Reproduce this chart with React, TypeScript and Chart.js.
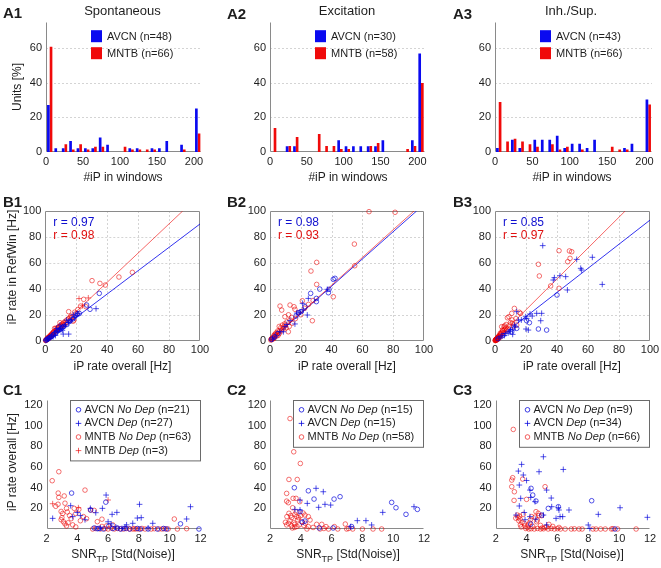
import React, { useEffect, useRef } from 'react';
import { Chart, registerables } from 'chart.js';
Chart.register(...registerables);

const FONT = '"Liberation Sans", Arial, Helvetica, sans-serif';
const BAR_BLUE = '#0a0af0';
const BAR_RED = '#f00a0a';
const PT_BLUE = 'rgba(0,0,220,0.85)';
const PT_RED = 'rgba(235,0,0,0.7)';
const FIT_BLUE = 'rgba(0,0,235,0.8)';
const FIT_RED = 'rgba(240,0,0,0.6)';
const TXT = '#1e1e1e';

// ---------------- DATA ----------------
const BIN_CENTERS = [5, 15, 25, 35, 45, 55, 65, 75, 85, 95, 105, 115, 125, 135, 145, 155, 165, 175, 185, 195, 205];
const A_X_TICKS = [0, 50, 100, 150, 200];
const A_Y_TICKS = [0, 20, 40, 60];
const B_TICKS = [0, 20, 40, 60, 80, 100];
const C_X_TICKS = [2, 4, 6, 8, 10, 12];
const C_Y_TICKS = [20, 40, 60, 80, 100, 120];

const A1_AVCN = [27.1, 2.1, 2.1, 6.3, 2.1, 2.1, 2.1, 8.3, 4.2, 0, 0, 2.1, 2.1, 0, 2.1, 2.1, 6.3, 0, 4.2, 0, 25.0];
const A1_MNTB = [60.6, 0, 4.5, 1.5, 4.5, 1.5, 3.0, 3.0, 0, 0, 3.0, 1.5, 1.5, 1.5, 1.5, 0, 0, 0, 1.5, 0, 10.6];
const A2_AVCN = [0, 0, 3.3, 3.3, 0, 0, 0, 0, 0, 6.7, 3.3, 3.3, 3.3, 3.3, 3.3, 6.7, 0, 0, 0, 6.7, 56.7];
const A2_MNTB = [13.8, 0, 3.4, 8.6, 0, 0, 10.3, 3.4, 3.4, 1.7, 1.7, 0, 0, 3.4, 5.2, 0, 0, 0, 1.7, 3.4, 39.7];
const A3_AVCN = [2.3, 0, 7.0, 2.3, 0, 7.0, 7.0, 7.0, 9.3, 2.3, 4.7, 4.7, 2.3, 7.0, 0, 0, 0, 2.3, 4.7, 0, 30.2];
const A3_MNTB = [28.8, 6.1, 7.6, 6.1, 4.5, 3.0, 0, 4.5, 1.5, 3.0, 0, 1.5, 0, 0, 0, 3.0, 1.5, 1.5, 0, 0, 27.3];

type Pt = [number, number];

const B1_AVCN_NODEP: Pt[] = [[0.5,0.4],[1.2,1.0],[2.0,1.8],[3.0,2.6],[4.0,3.2],[5.0,4.5],[6.2,5.5],[7.0,6.3],[8.0,7.8],[9.0,8.2],[10.0,9.0],[11.0,10.2],[12.0,11.0],[14.0,12.5],[16.0,15.0],[18.0,17.0],[20.7,20.6],[22.0,21.0],[26.7,27.5],[28.9,24.2],[34.9,36.5]];
const B1_AVCN_DEP: Pt[] = [[0.4,0.3],[1.5,1.2],[3.0,2.0],[4.0,3.5],[5.0,3.0],[6.0,6.0],[6.5,4.0],[7.3,9.5],[8.0,7.0],[9.0,8.5],[9.5,12.0],[10.0,9.2],[11.0,8.0],[11.6,5.1],[12.0,11.0],[13.0,12.0],[13.8,15.9],[15.1,5.1],[15.0,14.0],[16.0,15.2],[17.0,16.0],[18.1,20.0],[19.0,18.0],[20.0,19.0],[21.0,21.0],[32.8,24.7],[2.2,1.5]];
const B1_MNTB_NODEP: Pt[] = [[0.2,0.1],[0.3,0.3],[0.5,0.8],[0.8,0.5],[1.0,1.0],[1.2,1.5],[1.5,2.0],[1.8,2.2],[2.0,2.5],[2.0,1.5],[2.5,3.0],[2.8,3.0],[3.0,3.5],[3.0,2.5],[3.2,4.0],[3.5,4.0],[4.0,4.5],[4.2,3.8],[4.0,5.0],[4.5,5.5],[5.0,6.0],[5.0,5.0],[5.2,6.5],[5.5,7.0],[6.0,9.5],[6.2,7.0],[6.7,9.5],[7.0,8.0],[7.2,7.5],[7.5,9.0],[8.0,9.0],[8.0,10.0],[8.5,10.5],[9.0,11.0],[9.5,13.9],[10.0,12.0],[10.0,11.5],[10.5,11.0],[11.0,13.0],[11.5,12.5],[12.0,14.0],[12.0,12.0],[13.0,15.0],[13.5,14.0],[14.0,16.0],[15.0,17.0],[15.1,22.4],[16.0,18.0],[16.5,19.0],[17.0,18.0],[18.0,15.0],[18.5,15.9],[19.0,22.0],[20.0,21.0],[21.0,24.0],[22.8,26.7],[24.8,31.9],[26.3,26.2],[30.2,46.3],[35.3,44.2],[38.8,42.9],[47.6,49.1],[56.3,52.7]];
const B1_MNTB_DEP: Pt[] = [[21.8,32.5],[27.8,33.0],[24.0,27.0]];
const B1_FIT_AVCN: Pt[] = [[0, 0], [100, 90]];
const B1_FIT_MNTB: Pt[] = [[0, 0], [88.8, 100]];

const B2_AVCN_NODEP: Pt[] = [[42.2,48.1],[41.1,47.3],[37.9,37.0],[38.3,39.6],[32.3,39.8],[26.4,36.5],[30.1,30.1],[30.1,32.6],[22.7,26.2],[20.1,22.4],[18.6,21.6],[16.9,19.0],[3.0,3.0],[1.0,1.0],[5.0,5.5]];
const B2_AVCN_DEP: Pt[] = [[37.2,39.6],[24.2,19.8],[21.2,28.8],[24.9,32.6],[16.2,12.9],[8.7,6.9],[21.6,23.7],[17.4,21.3],[13.0,15.5],[9.7,10.8],[6.5,6.9],[3.2,2.8],[1.5,1.2],[19.5,22.0],[11.0,12.5]];
const B2_MNTB_NODEP: Pt[] = [[64.3,99.5],[81.2,99.0],[54.8,74.5],[55.0,57.8],[30.3,60.4],[26.6,53.7],[30.3,43.4],[41.1,33.9],[27.5,15.4],[6.5,26.7],[7.6,23.6],[13.0,27.5],[15.6,26.2],[16.2,24.2],[21.0,30.8],[9.7,18.5],[11.9,6.9],[12.0,20.0],[14.0,18.0],[13.0,16.0],[11.0,14.5],[10.0,12.0],[9.0,10.5],[8.0,12.0],[7.0,10.0],[6.5,8.0],[6.0,11.0],[5.5,6.5],[5.0,7.5],[4.5,5.0],[4.0,6.0],[3.5,4.5],[3.0,3.5],[2.5,4.0],[2.0,2.5],[1.5,2.0],[1.0,1.5],[0.5,0.5],[0.8,1.2],[1.2,0.8],[2.2,1.5],[2.8,2.0],[3.2,5.0],[4.2,3.5],[5.2,4.0],[6.0,5.5],[7.5,7.5],[8.5,9.0],[9.5,13.0],[10.5,10.0],[12.5,11.0],[14.5,13.5],[16.5,17.0],[18.5,21.5],[20.0,20.0],[22.5,25.0],[25.0,28.0],[28.0,31.0]];
const B2_FIT_AVCN: Pt[] = [[0, 0], [95.2, 100]];
const B2_FIT_MNTB: Pt[] = [[0, 0], [93.5, 100]];

const B3_AVCN_NODEP: Pt[] = [[40.0,35.2],[28.0,9.0],[33.3,8.2],[22.2,13.9],[20.4,15.4],[14.0,9.5],[10.8,6.9],[5.0,4.0],[2.0,1.5]];
const B3_AVCN_DEP: Pt[] = [[30.8,73.3],[69.2,43.4],[62.8,64.3],[52.7,62.7],[55.3,55.8],[55.9,54.5],[41.9,50.1],[45.6,49.4],[38.3,48.6],[37.6,46.8],[46.7,39.1],[30.1,21.1],[26.9,21.1],[29.5,15.4],[22.6,20.6],[19.8,18.5],[20.4,17.2],[20.0,9.0],[21.5,8.2],[15.1,15.9],[14.0,22.4],[11.4,8.2],[11.4,4.9],[9.5,7.0],[8.5,6.0],[7.0,5.5],[4.5,3.5],[2.5,2.0],[12.5,12.0],[17.0,16.0],[24.0,19.0],[13.0,10.5],[6.0,4.0],[10.0,8.5]];
const B3_MNTB_NODEP: Pt[] = [[41.3,69.4],[48.0,69.2],[49.5,68.6],[48.4,63.5],[46.9,60.9],[28.0,58.9],[28.6,49.9],[35.9,42.2],[41.3,40.4],[12.5,24.9],[15.7,21.9],[10.8,21.1],[9.0,18.5],[8.0,17.7],[13.5,17.0],[11.2,13.4],[14.0,12.1],[4.3,10.8],[5.8,10.8],[8.0,8.7],[3.3,5.5],[2.2,3.0],[1.2,1.5],[0.1,0.1],[0.2,0.3],[0.3,0.2],[0.4,0.6],[0.5,0.4],[0.6,0.9],[0.7,0.5],[0.8,1.0],[0.9,0.7],[1.0,1.3],[1.1,0.9],[1.3,1.8],[1.4,1.2],[1.5,2.2],[1.6,1.6],[1.8,2.5],[2.0,2.0],[2.4,3.5],[2.6,2.8],[2.8,4.0],[3.0,3.2],[3.5,4.5],[3.8,6.0],[4.0,5.0],[4.5,6.5],[5.0,7.5],[5.5,6.0],[6.0,8.5],[6.5,9.0],[7.0,10.0],[7.5,8.0],[9.5,12.0],[10.0,14.0],[11.0,16.0],[12.0,11.0],[7.2,12.5],[6.2,11.5],[16.5,21.0],[2.0,1.2],[1.0,0.5],[0.5,0.9],[3.5,2.8],[4.8,8.2]];
const B3_FIT_AVCN: Pt[] = [[0, 0], [100, 93]];
const B3_FIT_MNTB: Pt[] = [[0, 0], [84, 100]];

const C1_AVCN_NODEP: Pt[] = [[3.63,34.8],[4.87,18.4],[5.85,26.0],[6.05,3.0],[5.1,1.0],[5.4,0.5],[5.7,0.0],[6.3,0.5],[6.8,0.0],[7.4,0.0],[7.9,0.5],[8.6,0.0],[9.2,0.0],[9.6,0.5],[9.8,0.0],[10.7,5.0],[11.9,0.0],[6.6,1.0],[7.1,0.5],[5.3,0.3],[8.1,0.0]];
const C1_AVCN_DEP: Pt[] = [[2.4,10.3],[3.57,22.6],[3.7,12.0],[4.0,16.0],[4.2,13.0],[4.5,9.0],[4.85,20.0],[5.2,15.8],[5.63,20.0],[5.87,32.9],[6.0,7.0],[6.2,5.0],[6.26,14.2],[6.57,16.1],[7.1,2.0],[7.6,5.5],[7.9,10.6],[8.15,11.0],[8.04,23.9],[8.9,5.5],[11.1,9.7],[11.35,21.6],[6.5,2.0],[5.5,1.0],[6.9,0.5],[7.2,4.0],[8.6,1.0]];
const C1_MNTB_NODEP: Pt[] = [[2.37,46.8],[2.8,55.5],[2.76,34.8],[2.8,30.6],[2.6,22.0],[2.75,24.0],[2.95,17.0],[2.95,9.0],[3.0,11.0],[3.1,7.0],[3.2,5.0],[3.3,3.0],[3.05,15.0],[3.35,16.5],[3.5,13.0],[3.6,10.0],[3.9,15.0],[4.5,37.7],[4.1,19.0],[3.8,20.0],[4.85,18.4],[5.3,7.1],[5.9,3.0],[10.3,9.7],[3.2,25.0],[3.4,6.0],[3.7,4.0],[3.9,2.0],[4.2,8.0],[4.4,12.0],[3.15,32.0],[5.6,9.5],[5.1,18.0],[4.6,10.0],[3.3,20.0],[5.0,0.0],[5.2,0.5],[5.5,0.0],[5.8,0.3],[6.0,0.0],[6.2,1.0],[6.4,0.0],[6.6,0.5],[6.8,0.2],[7.0,0.0],[7.2,0.5],[7.4,0.0],[7.6,0.0],[7.7,0.3],[7.8,0.0],[8.0,0.0],[8.2,0.5],[8.4,0.0],[8.8,0.0],[9.0,0.3],[9.3,0.0],[9.5,0.0],[9.7,0.2],[9.9,0.0],[10.5,0.0],[11.1,0.3],[5.6,2.5],[6.3,4.0]];
const C1_MNTB_DEP: Pt[] = [[2.4,24.5],[4.07,20.6],[6.0,28.1]];

const C2_AVCN_NODEP: Pt[] = [[3.58,40.0],[4.49,37.0],[4.86,29.0],[6.16,29.0],[6.55,31.3],[9.9,25.8],[10.18,20.6],[10.83,14.2],[11.57,19.0],[4.27,7.7],[3.95,16.8],[7.3,2.3],[6.1,1.0],[5.2,1.0],[4.1,6.5]];
const C2_AVCN_DEP: Pt[] = [[3.95,28.0],[3.62,19.0],[3.95,18.4],[4.42,24.8],[4.99,39.4],[5.46,36.1],[5.16,21.0],[5.57,23.9],[5.94,23.2],[7.67,8.1],[8.23,8.1],[8.6,3.9],[9.32,16.1],[11.35,21.6],[7.24,2.3]];
const C2_MNTB_NODEP: Pt[] = [[3.3,107.0],[3.54,74.8],[3.97,63.5],[3.23,48.0],[3.77,48.0],[3.08,34.5],[3.5,29.7],[3.69,29.7],[3.08,27.0],[3.19,25.5],[3.93,26.5],[3.47,20.6],[3.23,15.2],[3.62,14.2],[3.4,11.0],[3.73,12.0],[4.27,13.5],[4.49,12.0],[4.6,8.7],[4.06,7.1],[4.49,2.3],[5.03,4.5],[5.36,4.5],[5.64,2.3],[6.18,2.3],[6.89,4.8],[6.98,0.0],[7.37,0.0],[8.69,0.0],[9.25,0.0],[5.8,0.0],[5.25,0.0],[4.4,0.0],[3.2,5.5],[3.08,4.0],[3.4,3.2],[3.6,1.5],[3.8,9.0],[3.9,4.0],[4.0,13.0],[3.3,8.0],[3.55,6.0],[3.7,16.5],[4.15,15.5],[3.85,11.0],[3.1,12.0],[3.45,1.0],[3.75,2.5],[4.2,3.5],[4.8,1.5],[6.4,0.0],[7.1,0.5],[8.0,0.0],[3.0,6.5],[3.35,13.0],[3.6,4.5],[4.3,5.5],[5.5,0.5]];

const C3_AVCN_NODEP: Pt[] = [[4.29,39.4],[4.4,32.9],[4.61,27.1],[5.41,20.0],[6.06,21.6],[8.22,27.4],[4.98,13.5],[4.27,4.8],[9.73,0.0]];
const C3_AVCN_DEP: Pt[] = [[5.09,70.0],[3.68,62.6],[3.47,56.1],[4.81,55.5],[6.38,57.7],[3.79,52.3],[3.53,42.6],[4.22,37.7],[4.27,30.6],[5.3,37.7],[4.55,26.5],[3.62,29.7],[3.53,22.3],[3.32,13.5],[4.22,12.0],[5.63,21.6],[6.06,20.6],[6.1,18.4],[6.75,18.4],[5.09,13.5],[5.91,10.3],[6.17,12.0],[6.34,12.0],[8.0,3.9],[8.65,14.2],[10.06,20.6],[11.83,11.3],[3.9,9.0],[4.6,9.5],[5.3,4.0],[5.6,30.0],[4.0,47.0],[3.85,16.0],[8.1,0.5]];
const C3_MNTB_NODEP: Pt[] = [[3.14,96.5],[3.04,47.4],[3.1,49.7],[3.04,41.0],[3.21,36.1],[3.19,27.7],[3.75,48.4],[4.0,28.7],[5.2,41.0],[3.4,13.5],[3.58,9.7],[3.5,8.0],[3.7,6.5],[3.45,11.0],[3.79,14.2],[4.61,16.8],[4.7,8.7],[4.76,15.2],[4.98,12.9],[4.33,12.0],[4.2,6.0],[3.6,4.0],[3.9,3.0],[4.05,1.5],[4.4,2.5],[4.9,3.5],[5.3,2.0],[5.0,1.0],[3.95,0.5],[4.15,0.0],[4.3,0.3],[4.5,0.0],[4.7,0.5],[4.9,0.0],[5.1,0.2],[5.4,0.0],[5.6,0.5],[5.8,0.0],[6.0,0.3],[6.2,0.0],[6.5,0.0],[6.9,0.0],[7.1,0.2],[7.4,0.0],[7.6,0.0],[8.3,0.0],[8.5,0.0],[8.8,0.0],[9.1,0.0],[9.5,0.0],[9.6,0.3],[9.9,0.0],[11.1,0.0],[3.3,10.5],[3.55,12.5],[4.55,11.5],[4.8,13.0],[5.45,4.5],[5.2,1.5],[4.1,4.0],[3.65,2.0],[3.85,5.5],[4.25,9.0],[4.65,7.0],[5.7,2.5],[6.1,1.5]];

// ---------------- GEOMETRY (plot areas in page px) ----------------
type Geo = { l: number; r: number; t: number; b: number };
const ROW_A = { t: 21.7, b: 152 };
const ROW_B = { t: 211, b: 340.7 };
const ROW_C = { t: 400, b: 529 };
const G_A1: Geo = { l: 46, r: 201.4, ...ROW_A };
const G_A2: Geo = { l: 270, r: 424.7, ...ROW_A };
const G_A3: Geo = { l: 495, r: 652, ...ROW_A };
const G_B1: Geo = { l: 45.3, r: 200, ...ROW_B };
const G_B2: Geo = { l: 270, r: 424, ...ROW_B };
const G_B3: Geo = { l: 495, r: 650, ...ROW_B };
const G_C1: Geo = { l: 46.5, r: 200.5, ...ROW_C };
const G_C2: Geo = { l: 270, r: 424, ...ROW_C };
const G_C3: Geo = { l: 495.7, r: 650, ...ROW_C };

function canvasBox(g: Geo) {
  const cl = Math.max(0, Math.floor(g.l) - 42);
  const ct = Math.floor(g.t) - 14;
  const cr = Math.min(661, Math.ceil(g.r) + 12);
  const cb = Math.ceil(g.b) + 22;
  return { cl, ct, cr, cb };
}

const tickFont = { family: FONT, size: 11 };

function xScale(g: Geo, min: number, max: number, ticks: number[]) {
  const { cb } = canvasBox(g);
  return {
    type: 'linear', min, max, offset: false, bounds: 'data',
    grid: { display: false, drawTicks: false }, border: { display: false },
    ticks: { font: tickFont, color: TXT, padding: 3, maxRotation: 0, autoSkip: false },
    afterBuildTicks: (s: any) => { s.ticks = ticks.map((v) => ({ value: v })); },
    afterFit: (s: any) => { s.height = cb - g.b; s.paddingLeft = 0; s.paddingRight = 0; },
  };
}
function yScale(g: Geo, min: number, max: number, ticks: number[]) {
  const { cl } = canvasBox(g);
  return {
    type: 'linear', min, max, bounds: 'data',
    grid: { display: false, drawTicks: false }, border: { display: false },
    ticks: { font: tickFont, color: TXT, padding: 4, autoSkip: false },
    afterBuildTicks: (s: any) => { s.ticks = ticks.map((v) => ({ value: v })); },
    afterFit: (s: any) => { s.width = g.l - cl; s.paddingTop = 0; s.paddingBottom = 0; },
  };
}

function baseOptions(g: Geo) {
  const { ct, cr } = canvasBox(g);
  return {
    animation: false, responsive: false, devicePixelRatio: 1,
    layout: { padding: { top: g.t - ct, right: cr - g.r, left: 0, bottom: 0 } },
    plugins: { legend: { display: false }, tooltip: { enabled: false }, title: { display: false } },
    events: [],
  };
}

function framePlugin(gridX: number[], gridY: number[], box: boolean) {
  return {
    id: 'frame',
    beforeDatasetsDraw(chart: any) {
      const { ctx, chartArea: a, scales } = chart;
      const x = scales.x, y = scales.y;
      ctx.save();
      ctx.strokeStyle = '#d4d4d4';
      ctx.lineWidth = 1;
      ctx.setLineDash([2, 2]);
      gridX.forEach((v) => {
        const px = Math.round(x.getPixelForValue(v)) + 0.5;
        ctx.beginPath(); ctx.moveTo(px, a.top); ctx.lineTo(px, a.bottom); ctx.stroke();
      });
      gridY.forEach((v) => {
        const py = Math.round(y.getPixelForValue(v)) + 0.5;
        ctx.beginPath(); ctx.moveTo(a.left, py); ctx.lineTo(a.right, py); ctx.stroke();
      });
      ctx.setLineDash([]);
      ctx.strokeStyle = '#8a8a8a';
      const L = Math.round(a.left) + 0.5, R = Math.round(a.right) - 0.5;
      const T = Math.round(a.top) + 0.5, B = Math.round(a.bottom) - 0.5;
      ctx.beginPath();
      ctx.moveTo(L, T); ctx.lineTo(L, B); ctx.lineTo(R, B);
      if (box) { ctx.lineTo(R, T); ctx.lineTo(L, T); }
      ctx.stroke();
      ctx.restore();
    },
  };
}

function barLegendPlugin(items: { label: string; color: string }[]) {
  return {
    id: 'barLegend',
    afterDatasetsDraw(chart: any) {
      const { ctx, chartArea: a } = chart;
      ctx.save();
      items.forEach((it, i) => {
        const y0 = a.top + 8.5 + i * 17;
        ctx.fillStyle = it.color;
        ctx.fillRect(a.left + 45, y0, 11, 12);
        ctx.fillStyle = TXT;
        ctx.font = `11px ${FONT}`;
        ctx.textBaseline = 'middle';
        ctx.fillText(it.label, a.left + 61, y0 + 6.5);
      });
      ctx.restore();
    },
  };
}

function rTextPlugin(items: { label: string; color: string }[], dx: number) {
  return {
    id: 'rText',
    afterDatasetsDraw(chart: any) {
      const { ctx, chartArea: a } = chart;
      ctx.save();
      ctx.font = `12px ${FONT}`;
      ctx.textBaseline = 'middle';
      items.forEach((it, i) => {
        ctx.fillStyle = it.color;
        ctx.fillText(it.label, a.left + dx, a.top + 12 + i * 13);
      });
      ctx.restore();
    },
  };
}

type LegPart = [string, boolean];
function drawMarker(ctx: CanvasRenderingContext2D, style: string, color: string, x: number, y: number) {
  ctx.save();
  ctx.strokeStyle = color;
  ctx.lineWidth = 0.9;
  ctx.beginPath();
  if (style === 'circle') {
    ctx.arc(x, y, 2.3, 0, Math.PI * 2);
  } else {
    ctx.moveTo(x - 2.8, y); ctx.lineTo(x + 2.8, y);
    ctx.moveTo(x, y - 2.8); ctx.lineTo(x, y + 2.8);
  }
  ctx.stroke();
  ctx.restore();
}

function boxLegendPlugin(items: { parts: LegPart[]; color: string; style: string }[]) {
  return {
    id: 'boxLegend',
    afterDatasetsDraw(chart: any) {
      const { ctx, chartArea: a } = chart;
      const w = 131;
      const h = items.length * 13.6 + 6;
      const left = Math.round(a.right - w) + 0.5;
      const top = Math.round(a.top) + 0.5;
      ctx.save();
      ctx.fillStyle = '#ffffff';
      ctx.fillRect(left, top, w, h);
      ctx.strokeStyle = '#6a6a6a';
      ctx.lineWidth = 1;
      ctx.strokeRect(left, top, w - 1, h);
      ctx.textBaseline = 'middle';
      items.forEach((it, i) => {
        const cy = top + 9.3 + i * 13.6;
        drawMarker(ctx, it.style, it.color, left + 8, cy);
        let x = left + 14;
        ctx.fillStyle = TXT;
        it.parts.forEach(([s, ital]) => {
          ctx.font = `${ital ? 'italic ' : ''}11px ${FONT}`;
          ctx.fillText(s, x, cy);
          x += ctx.measureText(s).width;
        });
      });
      ctx.restore();
    },
  };
}

function pts(p: Pt[]) { return p.map(([x, y]) => ({ x, y })); }

function scatterDs(p: Pt[], color: string, style: string) {
  return {
    data: pts(p), showLine: false, clip: false,
    pointStyle: style === 'circle' ? 'circle' : 'cross',
    pointRadius: style === 'circle' ? 2.3 : 2.9,
    pointBorderColor: color, pointBackgroundColor: 'rgba(0,0,0,0)',
    pointBorderWidth: 0.8, borderColor: color, backgroundColor: 'rgba(0,0,0,0)',
  };
}
function fitDs(p: Pt[], color: string) {
  return {
    data: pts(p), showLine: true, pointRadius: 0, borderColor: color, borderWidth: 1,
    fill: false, tension: 0,
  };
}

function histConfig(g: Geo, avcn: number[], mntb: number[], labA: string, labM: string) {
  return {
    type: 'bar',
    data: {
      datasets: [
        { data: BIN_CENTERS.map((x, i) => ({ x, y: avcn[i] })), backgroundColor: BAR_BLUE, categoryPercentage: 0.72, barPercentage: 1, borderWidth: 0 },
        { data: BIN_CENTERS.map((x, i) => ({ x, y: mntb[i] })), backgroundColor: BAR_RED, categoryPercentage: 0.72, barPercentage: 1, borderWidth: 0 },
      ],
    },
    options: {
      ...baseOptions(g),
      scales: { x: xScale(g, 0, 210, A_X_TICKS), y: yScale(g, 0, 75, A_Y_TICKS) },
    },
    plugins: [
      framePlugin([], [20, 40, 60], false),
      barLegendPlugin([{ label: labA, color: BAR_BLUE }, { label: labM, color: BAR_RED }]),
    ],
  };
}

function bConfig(g: Geo, sets: any[], fits: any[], r: { label: string; color: string }[]) {
  return {
    type: 'scatter',
    data: { datasets: [...sets, ...fits] },
    options: {
      ...baseOptions(g),
      scales: { x: xScale(g, 0, 100, B_TICKS), y: yScale(g, 0, 100, B_TICKS) },
    },
    plugins: [framePlugin([20, 40, 60, 80], [20, 40, 60, 80], true), rTextPlugin(r, 8)],
  };
}

function cConfig(g: Geo, sets: any[], legend: { parts: LegPart[]; color: string; style: string }[]) {
  return {
    type: 'scatter',
    data: { datasets: sets },
    options: {
      ...baseOptions(g),
      scales: { x: xScale(g, 2, 12, C_X_TICKS), y: yScale(g, 0, 125, C_Y_TICKS) },
    },
    plugins: [framePlugin([], [], false), boxLegendPlugin(legend)],
  };
}

const PANELS: { g: Geo; make: () => any }[] = [
  { g: G_A1, make: () => histConfig(G_A1, A1_AVCN, A1_MNTB, 'AVCN (n=48)', 'MNTB (n=66)') },
  { g: G_A2, make: () => histConfig(G_A2, A2_AVCN, A2_MNTB, 'AVCN (n=30)', 'MNTB (n=58)') },
  { g: G_A3, make: () => histConfig(G_A3, A3_AVCN, A3_MNTB, 'AVCN (n=43)', 'MNTB (n=66)') },
  {
    g: G_B1, make: () => bConfig(G_B1, [
      scatterDs(B1_AVCN_NODEP, PT_BLUE, 'circle'), scatterDs(B1_AVCN_DEP, PT_BLUE, 'cross'),
      scatterDs(B1_MNTB_NODEP, PT_RED, 'circle'), scatterDs(B1_MNTB_DEP, PT_RED, 'cross'),
    ], [fitDs(B1_FIT_AVCN, FIT_BLUE), fitDs(B1_FIT_MNTB, FIT_RED)],
      [{ label: 'r = 0.97', color: '#1010d0' }, { label: 'r = 0.98', color: '#e01010' }]),
  },
  {
    g: G_B2, make: () => bConfig(G_B2, [
      scatterDs(B2_AVCN_NODEP, PT_BLUE, 'circle'), scatterDs(B2_AVCN_DEP, PT_BLUE, 'cross'),
      scatterDs(B2_MNTB_NODEP, PT_RED, 'circle'),
    ], [fitDs(B2_FIT_MNTB, FIT_RED), fitDs(B2_FIT_AVCN, FIT_BLUE)],
      [{ label: 'r = 0.98', color: '#1010d0' }, { label: 'r = 0.93', color: '#e01010' }]),
  },
  {
    g: G_B3, make: () => bConfig(G_B3, [
      scatterDs(B3_AVCN_NODEP, PT_BLUE, 'circle'), scatterDs(B3_AVCN_DEP, PT_BLUE, 'cross'),
      scatterDs(B3_MNTB_NODEP, PT_RED, 'circle'),
    ], [fitDs(B3_FIT_AVCN, FIT_BLUE), fitDs(B3_FIT_MNTB, FIT_RED)],
      [{ label: 'r = 0.85', color: '#1010d0' }, { label: 'r = 0.97', color: '#e01010' }]),
  },
  {
    g: G_C1, make: () => cConfig(G_C1, [
      scatterDs(C1_AVCN_NODEP, PT_BLUE, 'circle'), scatterDs(C1_AVCN_DEP, PT_BLUE, 'cross'),
      scatterDs(C1_MNTB_NODEP, PT_RED, 'circle'), scatterDs(C1_MNTB_DEP, PT_RED, 'cross'),
    ], [
      { parts: [['AVCN ', false], ['No Dep', true], [' (n=21)', false]], color: PT_BLUE, style: 'circle' },
      { parts: [['AVCN ', false], ['Dep', true], [' (n=27)', false]], color: PT_BLUE, style: 'cross' },
      { parts: [['MNTB ', false], ['No Dep', true], [' (n=63)', false]], color: PT_RED, style: 'circle' },
      { parts: [['MNTB ', false], ['Dep', true], [' (n=3)', false]], color: PT_RED, style: 'cross' },
    ]),
  },
  {
    g: G_C2, make: () => cConfig(G_C2, [
      scatterDs(C2_AVCN_NODEP, PT_BLUE, 'circle'), scatterDs(C2_AVCN_DEP, PT_BLUE, 'cross'),
      scatterDs(C2_MNTB_NODEP, PT_RED, 'circle'),
    ], [
      { parts: [['AVCN ', false], ['No Dep', true], [' (n=15)', false]], color: PT_BLUE, style: 'circle' },
      { parts: [['AVCN ', false], ['Dep', true], [' (n=15)', false]], color: PT_BLUE, style: 'cross' },
      { parts: [['MNTB ', false], ['No Dep', true], [' (n=58)', false]], color: PT_RED, style: 'circle' },
    ]),
  },
  {
    g: G_C3, make: () => cConfig(G_C3, [
      scatterDs(C3_AVCN_NODEP, PT_BLUE, 'circle'), scatterDs(C3_AVCN_DEP, PT_BLUE, 'cross'),
      scatterDs(C3_MNTB_NODEP, PT_RED, 'circle'),
    ], [
      { parts: [['AVCN ', false], ['No Dep', true], [' (n=9)', false]], color: PT_BLUE, style: 'circle' },
      { parts: [['AVCN ', false], ['Dep', true], [' (n=34)', false]], color: PT_BLUE, style: 'cross' },
      { parts: [['MNTB ', false], ['No Dep', true], [' (n=66)', false]], color: PT_RED, style: 'circle' },
    ]),
  },
];

function Panel({ g, make }: { g: Geo; make: () => any }) {
  const ref = useRef<HTMLCanvasElement>(null);
  const { cl, ct, cr, cb } = canvasBox(g);
  useEffect(() => {
    const chart = new Chart(ref.current as HTMLCanvasElement, make());
    return () => chart.destroy();
  }, []);
  return (
    <canvas
      ref={ref}
      width={cr - cl}
      height={cb - ct}
      style={{ position: 'absolute', left: cl, top: ct, width: cr - cl, height: cb - ct }}
    />
  );
}

function T({ x, y, children, size = 12, bold = false, center = true, rot = false }: any) {
  return (
    <div
      style={{
        position: 'absolute', left: x, top: y, fontSize: size, fontWeight: bold ? 'bold' : 'normal',
        lineHeight: 1, whiteSpace: 'nowrap', color: TXT, fontFamily: FONT,
        transform: `translate(${center ? '-50%' : '0'}, -50%)${rot ? ' rotate(-90deg)' : ''}`,
        transformOrigin: rot ? '50% 50%' : undefined,
      }}
    >
      {children}
    </div>
  );
}

function Snr({ x, y }: { x: number; y: number }) {
  return (
    <T x={x} y={y}>
      SNR<span style={{ fontSize: 9, position: 'relative', top: 4 }}>TP</span> [Std(Noise)]
    </T>
  );
}

export default function App() {
  return (
    <div style={{ position: 'absolute', left: 0, top: 0, width: 661, height: 568, overflow: 'hidden', background: '#ffffff', fontFamily: FONT }}>
      {PANELS.map((p, i) => <Panel key={i} g={p.g} make={p.make} />)}
      <T x={3} y={11.5} size={15} bold center={false}>A1</T>
      <T x={227} y={12.5} size={15} bold center={false}>A2</T>
      <T x={453} y={12.5} size={15} bold center={false}>A3</T>
      <T x={3} y={200.5} size={15} bold center={false}>B1</T>
      <T x={227} y={200.5} size={15} bold center={false}>B2</T>
      <T x={453} y={200.5} size={15} bold center={false}>B3</T>
      <T x={3} y={389} size={15} bold center={false}>C1</T>
      <T x={227} y={389} size={15} bold center={false}>C2</T>
      <T x={453} y={389} size={15} bold center={false}>C3</T>
      <T x={122.5} y={9.5} size={13}>Spontaneous</T>
      <T x={347} y={9.5} size={13}>Excitation</T>
      <T x={571} y={9.5} size={13}>Inh./Sup.</T>
      <T x={123} y={177}>#iP in windows</T>
      <T x={348} y={177}>#iP in windows</T>
      <T x={572} y={177}>#iP in windows</T>
      <T x={122.5} y={366}>iP rate overall [Hz]</T>
      <T x={347} y={366}>iP rate overall [Hz]</T>
      <T x={572} y={366}>iP rate overall [Hz]</T>
      <Snr x={123} y={554} />
      <Snr x={348} y={554} />
      <Snr x={572} y={554} />
      <T x={17} y={87} rot>Units [%]</T>
      <T x={12} y={267} rot>iP rate in RefWin [Hz]</T>
      <T x={12} y={462} rot>iP rate overall [Hz]</T>
    </div>
  );
}
